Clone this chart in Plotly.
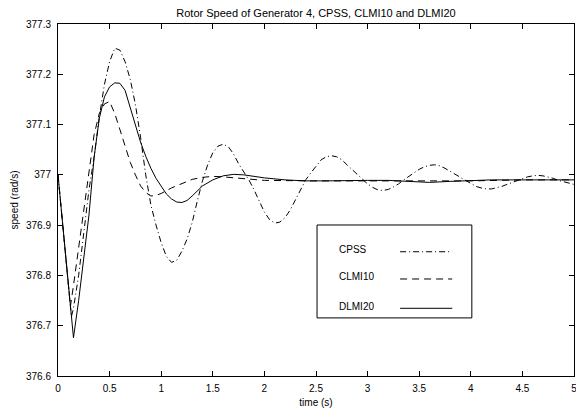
import plotly.graph_objects as go

# ---------------- data ----------------
series_names = ["CPSS", "CLMI10", "DLMI20"]

t_cpss = [0.00, 0.05, 0.10, 0.13, 0.15, 0.20, 0.25, 0.30, 0.35, 0.40, 0.45, 0.50,
          0.55, 0.60, 0.65, 0.70, 0.75, 0.80, 0.85, 0.90, 0.95, 1.00, 1.05, 1.10,
          1.15, 1.20, 1.25, 1.30, 1.35, 1.40, 1.45, 1.50, 1.55, 1.60, 1.65, 1.70,
          1.75, 1.80, 1.85, 1.90, 1.95, 2.00, 2.05, 2.10, 2.15, 2.20, 2.25, 2.30,
          2.35, 2.40, 2.45, 2.50, 2.55, 2.60, 2.65, 2.70, 2.75, 2.80, 2.85, 2.90,
          2.95, 3.00, 3.05, 3.10, 3.15, 3.20, 3.25, 3.30, 3.35, 3.40, 3.45, 3.50,
          3.55, 3.60, 3.65, 3.70, 3.75, 3.80, 3.85, 3.90, 3.95, 4.00, 4.05, 4.10,
          4.15, 4.20, 4.25, 4.30, 4.35, 4.40, 4.45, 4.50, 4.55, 4.60, 4.65, 4.70,
          4.75, 4.80, 4.85, 4.90, 4.95, 5.00]
v_cpss = [377.000, 376.895, 376.775, 376.718, 376.735, 376.800, 376.885, 376.970,
          377.035, 377.115, 377.180, 377.225, 377.252, 377.248, 377.225, 377.190,
          377.140, 377.075, 377.000, 376.940, 376.900, 376.865, 376.838, 376.826,
          376.830, 376.848, 376.872, 376.905, 376.948, 376.988, 377.020, 377.044,
          377.057, 377.061, 377.056, 377.042, 377.022, 377.005, 376.990, 376.970,
          376.948, 376.926, 376.911, 376.904, 376.906, 376.915, 376.930, 376.950,
          376.970, 376.990, 377.004, 377.018, 377.030, 377.036, 377.038, 377.036,
          377.030, 377.020, 377.010, 377.000, 376.990, 376.982, 376.975, 376.970,
          376.969, 376.971, 376.976, 376.982, 376.990, 376.997, 377.005, 377.011,
          377.016, 377.019, 377.020, 377.018, 377.013, 377.007, 377.000, 376.995,
          376.988, 376.982, 376.977, 376.974, 376.972, 376.972, 376.974, 376.977,
          376.981, 376.985, 376.989, 376.993, 376.996, 376.998, 376.999, 376.998,
          376.996, 376.993, 376.989, 376.986, 376.983, 376.981]

t_clmi = [0.00, 0.05, 0.10, 0.12, 0.15, 0.20, 0.25, 0.30, 0.35, 0.40, 0.45, 0.50,
          0.55, 0.60, 0.65, 0.70, 0.75, 0.80, 0.85, 0.90, 0.95, 1.00, 1.10, 1.20,
          1.30, 1.40, 1.50, 1.60, 1.80, 2.00, 2.50, 3.00, 3.50, 4.00, 4.50, 5.00]
v_clmi = [377.000, 376.885, 376.770, 376.738, 376.780, 376.855, 376.930, 377.005,
          377.080, 377.122, 377.141, 377.146, 377.122, 377.090, 377.055, 377.025,
          377.000, 376.978, 376.965, 376.958, 376.959, 376.963, 376.974, 376.983,
          376.991, 376.995, 376.997, 376.996, 376.992, 376.989, 376.988, 376.988,
          376.988, 376.988, 376.990, 376.990]

t_dlmi = [0.00, 0.05, 0.10, 0.15, 0.20, 0.25, 0.30, 0.35, 0.40, 0.45, 0.50, 0.55,
          0.60, 0.65, 0.70, 0.75, 0.80, 0.85, 0.90, 0.95, 1.00, 1.05, 1.10, 1.15,
          1.20, 1.25, 1.30, 1.35, 1.40, 1.50, 1.60, 1.70, 1.80, 1.90, 2.00, 2.20,
          2.40, 2.60, 2.80, 3.00, 3.20, 3.40, 3.60, 3.80, 4.00, 4.20, 4.40, 4.60,
          4.80, 5.00]
v_dlmi = [377.000, 376.890, 376.780, 376.676, 376.750, 376.830, 376.920, 377.035,
          377.112, 377.155, 377.175, 377.183, 377.182, 377.168, 377.135, 377.097,
          377.065, 377.037, 377.013, 376.993, 376.977, 376.962, 376.952, 376.946,
          376.945, 376.949, 376.958, 376.968, 376.978, 376.990, 376.998, 377.001,
          377.000, 376.997, 376.994, 376.990, 376.988, 376.988, 376.989, 376.989,
          376.989, 376.987, 376.985, 376.987, 376.989, 376.990, 376.990, 376.990,
          376.990, 376.990]

x_tick_vals = [0, 0.5, 1, 1.5, 2, 2.5, 3, 3.5, 4, 4.5, 5]
x_tick_text = ["0", "0.5", "1", "1.5", "2", "2.5", "3", "3.5", "4", "4.5", "5"]
y_tick_vals = [376.6, 376.7, 376.8, 376.9, 377.0, 377.1, 377.2, 377.3]
y_tick_text = ["376.6", "376.7", "376.8", "376.9", "377", "377.1", "377.2", "377.3"]

# ---------------- styles ----------------
dash_styles = ["6px,3px,1px,3px", "7px,5px", "solid"]
FONT = "Liberation Sans, Arial, Helvetica, sans-serif"

fig = go.Figure()
for name, t, v, d in zip(series_names, [t_cpss, t_clmi, t_dlmi],
                         [v_cpss, v_clmi, v_dlmi], dash_styles):
    fig.add_trace(go.Scatter(x=t, y=v, mode="lines", name=name,
                             line=dict(color="black", width=1, dash=d),
                             cliponaxis=False))

axis_common = dict(ticks="inside", ticklen=5, tickcolor="black", showline=True,
                   linecolor="black", linewidth=1, mirror="ticks", showgrid=False,
                   zeroline=False, automargin=False, ticklabeloverflow="allow",
                   tickfont=dict(family=FONT, size=10, color="black"))

fig.update_layout(
    width=576, height=408,
    margin=dict(l=58, r=2, t=24, b=32),
    plot_bgcolor="white", paper_bgcolor="white",
    font=dict(family=FONT, size=10, color="black"),
    showlegend=False,
    title=dict(text="Rotor Speed of Generator 4, CPSS, CLMI10 and DLMI20",
               x=316 / 576, xanchor="center", y=1 - 13 / 408, yanchor="middle",
               font=dict(family=FONT, size=11, color="black")),
    xaxis=dict(range=[0, 5], tickvals=x_tick_vals, ticktext=x_tick_text,
               ticklabelstandoff=3,
               title=dict(text="time (s)", standoff=5,
                          font=dict(family=FONT, size=10)),
               **axis_common),
    yaxis=dict(range=[376.6, 377.3], tickvals=y_tick_vals, ticktext=y_tick_text,
               ticklabelstandoff=4,
               title=dict(text="speed (rad/s)", standoff=5,
                          font=dict(family=FONT, size=10)),
               **axis_common),
)

# ---------------- legend box (MATLAB style: text left, sample right) ----------------
box = dict(x0=0.502, x1=0.802, y0=0.165, y1=0.429)
fig.add_shape(type="rect", xref="paper", yref="paper", **box,
              line=dict(color="black", width=1), fillcolor="white", layer="above")
legend_y = [0.353, 0.2756, 0.1923]
for name, d, yy in zip(series_names, dash_styles, legend_y):
    fig.add_shape(type="line", xref="paper", yref="paper", x0=0.663, x1=0.764,
                  y0=yy, y1=yy, line=dict(color="black", width=1, dash=d),
                  layer="above")
    fig.add_annotation(xref="paper", yref="paper", x=0.540, y=yy + 0.006,
                       xanchor="left", yanchor="middle", text=name,
                       showarrow=False, font=dict(family=FONT, size=10, color="black"))

fig.write_html("out.html",
               config={"displayModeBar": False},
               post_script="document.body.style.margin='0';document.body.style.overflow='hidden';")
